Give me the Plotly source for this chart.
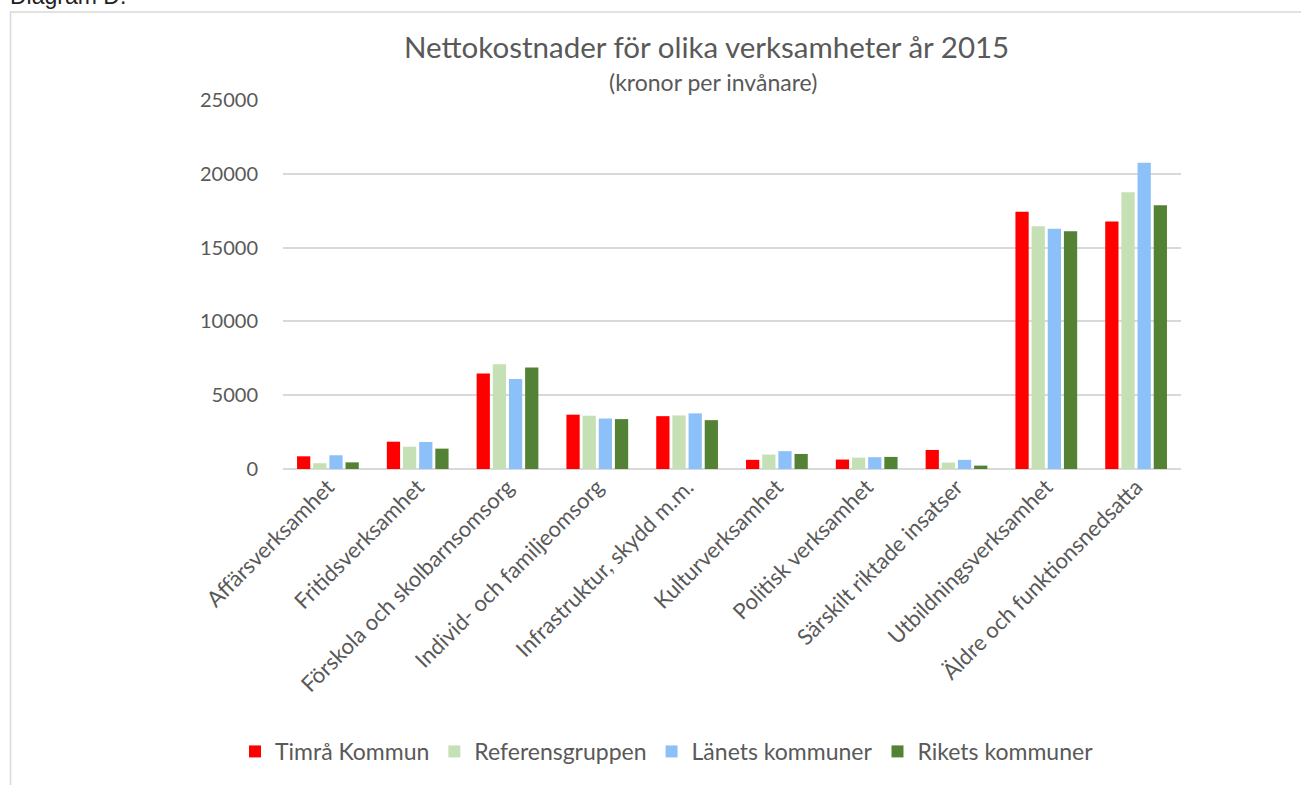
import plotly.graph_objects as go

# ------------------------------------------------------------
# DATA (kronor per invånare, 2015)
# ------------------------------------------------------------

CATEGORIES = [
    "Affärsverksamhet",
    "Fritidsverksamhet",
    "Förskola och skolbarnsomsorg",
    "Individ- och familjeomsorg",
    "Infrastruktur, skydd m.m.",
    "Kulturverksamhet",
    "Politisk verksamhet",
    "Särskilt riktade insatser",
    "Utbildningsverksamhet",
    "Äldre och funktionsnedsatta",
]

TIMRA = [860, 1850, 6470, 3680, 3580, 620, 640, 1290, 17430, 16770]
REFERENS = [390, 1510, 7100, 3610, 3630, 980, 770, 440, 16450, 18750]
LANET = [930, 1830, 6100, 3420, 3770, 1210, 800, 620, 16280, 20750]
RIKET = [450, 1380, 6870, 3380, 3310, 1020, 820, 230, 16100, 17870]

SERIES_NAMES = ["Timrå Kommun", "Referensgruppen", "Länets kommuner", "Rikets kommuner"]
SERIES_VALUES = [TIMRA, REFERENS, LANET, RIKET]
SERIES_COLORS = ["#FF0000", "#C5E0B4", "#8BC1F8", "#548235"]

Y_TICKS = [0, 5000, 10000, 15000, 20000, 25000]

FONT = "Lato, 'Open Sans', sans-serif"
TEXT_COLOR = "#595959"
GRID_COLOR = "#D9D9D9"

# plot area in pixels (for border / label placement)
W, H = 1301, 785
PLOT_L, PLOT_R, PLOT_T, PLOT_B = 283, 1181, 100, 471


def px_x(px):
    return (px - PLOT_L) / (PLOT_R - PLOT_L)


def px_y(py):
    return (PLOT_B - py) / (PLOT_B - PLOT_T)


# ------------------------------------------------------------
# FIGURE
# ------------------------------------------------------------

fig = go.Figure()

for name, values, color in zip(SERIES_NAMES, SERIES_VALUES, SERIES_COLORS):
    fig.add_trace(go.Bar(
        x=CATEGORIES,
        y=values,
        name=name,
        marker=dict(color=color, line=dict(width=0)),
    ))

fig.update_layout(
    width=W,
    height=H,
    margin=dict(l=PLOT_L, r=W - PLOT_R, t=PLOT_T, b=H - PLOT_B, pad=0),
    paper_bgcolor="white",
    plot_bgcolor="white",
    font=dict(family=FONT, color=TEXT_COLOR, size=20),
    barmode="group",
    bargap=0.28,
    bargroupgap=0.18,
    showlegend=True,
    legend=dict(
        orientation="h",
        x=px_x(667),
        xanchor="center",
        y=px_y(755),
        yanchor="middle",
        font=dict(size=23, color=TEXT_COLOR),
        itemwidth=30,
        traceorder="normal",
    ),
    xaxis=dict(
        tickangle=-45,
        showgrid=False,
        showline=False,
        ticks="",
        automargin=False,
        tickfont=dict(size=22, color=TEXT_COLOR),
    ),
    yaxis=dict(
        range=[0, 25000],
        tickvals=Y_TICKS,
        ticktext=[str(v) for v in Y_TICKS],
        showgrid=True,
        gridcolor=GRID_COLOR,
        gridwidth=1.5,
        zeroline=True,
        zerolinecolor=GRID_COLOR,
        zerolinewidth=1.5,
        showline=False,
        ticks="",
        ticklabelstandoff=24,
        automargin=False,
        tickfont=dict(size=20, color=TEXT_COLOR),
    ),
)

# title + subtitle
fig.add_annotation(
    text="Nettokostnader för olika verksamheter år 2015",
    xref="paper", yref="paper",
    x=px_x(706), y=px_y(46),
    xanchor="center", yanchor="middle",
    showarrow=False,
    font=dict(size=29.5, color=TEXT_COLOR, family=FONT),
)
fig.add_annotation(
    text="(kronor per invånare)",
    xref="paper", yref="paper",
    x=px_x(713), y=px_y(82),
    xanchor="center", yanchor="middle",
    showarrow=False,
    font=dict(size=23, color=TEXT_COLOR, family=FONT),
)

# caption above the chart box, cut by the page edge
fig.add_annotation(
    text="Diagram D.",
    xref="paper", yref="paper",
    x=px_x(8), y=px_y(11),
    xanchor="left", yanchor="bottom",
    showarrow=False,
    font=dict(size=23, color="#222222", family="Arial, 'Liberation Sans', sans-serif"),
)

# chart border (only left and top visible in the crop)
fig.add_shape(
    type="rect",
    xref="paper", yref="paper",
    x0=px_x(10.5), x1=px_x(1400),
    y0=px_y(900), y1=px_y(11.5),
    line=dict(color=GRID_COLOR, width=1.5),
    layer="below",
)

fig.write_html(
    "out.html",
    config={"displayModeBar": False},
    post_script="document.body.style.margin='0px';",
)
